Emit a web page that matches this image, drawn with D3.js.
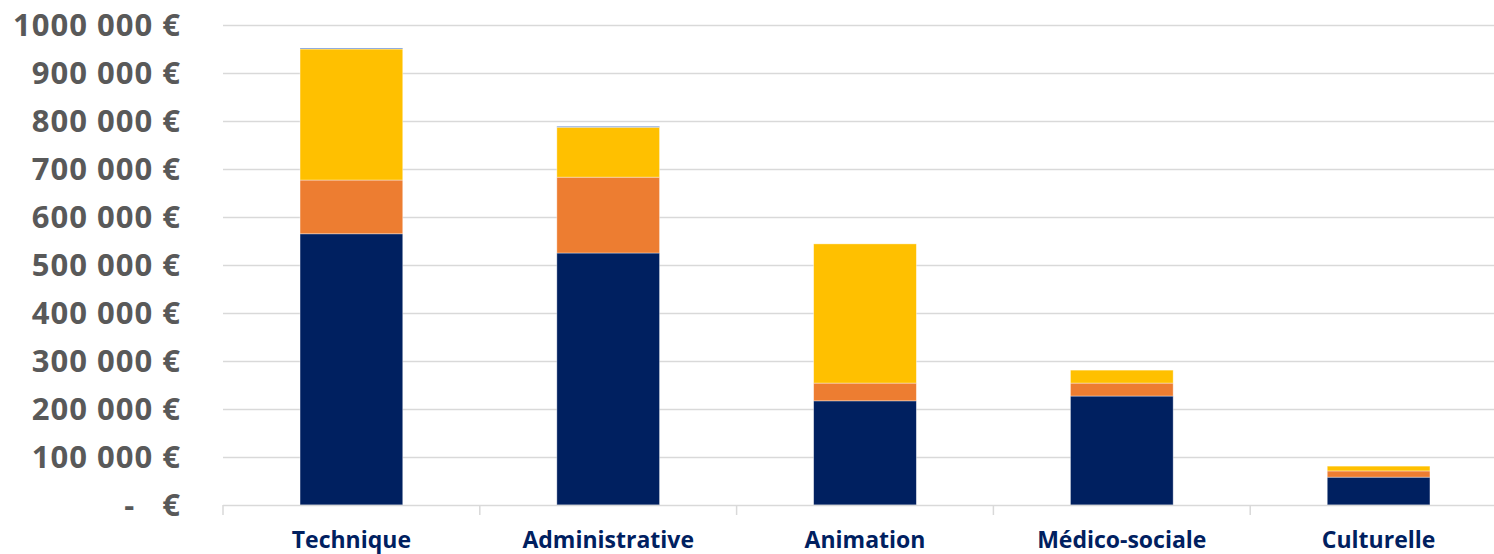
<!DOCTYPE html>
<html>
<head>
<meta charset="utf-8">
<script src="https://cdn.jsdelivr.net/npm/d3@7"></script>
<style>
  body { margin: 0; background: #fff; }
  svg { display: block; }
</style>
</head>
<body>
<div id="chart"></div>
<script>
// categories and stacked series (values in euros)
const categories = ["Technique", "Administrative", "Animation", "Médico-sociale", "Culturelle"];
const seriesNames = ["s1", "s2", "s3", "s4"];
const s1 = [565000, 525000, 217000, 227000, 58000];
const s2 = [112000, 158000, 37000, 27000, 13000];
const s3 = [273000, 104000, 290000, 27000, 10000];
const s4 = [2000, 2000, 0, 0, 0];
const colors = ["#002060", "#ED7D31", "#FFC000", "#4472C4"];
const yTicks = [0, 100000, 200000, 300000, 400000, 500000, 600000, 700000, 800000, 900000, 1000000];

const width = 1494, height = 554;
const margin = { top: 25, right: -13, bottom: 49, left: 223 };

const svg = d3.select("#chart").append("svg")
    .attr("width", width)
    .attr("height", height);

const x = d3.scaleBand()
    .domain(categories)
    .range([margin.left, width - margin.right])
    .paddingInner(0.6)
    .paddingOuter(0.3);

const y = d3.scaleLinear()
    .domain([0, 1000000])
    .range([height - margin.bottom, margin.top]);

// table for the stack
const rows = categories.map((c, i) => ({ cat: c, s1: s1[i], s2: s2[i], s3: s3[i], s4: s4[i] }));
const stacked = d3.stack().keys(seriesNames)(rows);

// gridlines
svg.append("g")
    .selectAll("line")
    .data(yTicks.filter(d => d > 0))
    .enter()
    .append("line")
    .attr("x1", margin.left)
    .attr("x2", width)
    .attr("y1", d => Math.round(y(d)) + 0.5)
    .attr("y2", d => Math.round(y(d)) + 0.5)
    .attr("stroke", "#d9d9d9")
    .attr("stroke-width", 1.5);

// y labels
const fmt = d => d === 0 ? "-   €" : d3.format(",")(d).replace(/,/g, " ").replace(/^1 000 000$/, "1000 000") + " €";
svg.append("g")
    .selectAll("text")
    .data(yTicks)
    .enter()
    .append("text")
    .attr("x", 181)
    .attr("y", d => y(d))
    .attr("dy", "0.36em")
    .attr("text-anchor", "end")
    .attr("font-family", "'Open Sans', sans-serif")
    .attr("font-weight", "bold")
    .attr("font-size", "31px")
    .attr("letter-spacing", "1px")
    .attr("fill", "#595959")
    .style("white-space", "pre")
    .text(fmt);

// bars
svg.append("g")
    .selectAll("g")
    .data(stacked)
    .enter()
    .append("g")
    .attr("fill", (d, i) => colors[i])
    .selectAll("rect")
    .data(d => d.map(v => Object.assign(v, { cat: v.data.cat })))
    .enter()
    .append("rect")
    .attr("x", d => x(d.cat))
    .attr("width", x.bandwidth())
    .attr("y", d => y(d[1]))
    .attr("height", d => Math.max(0, y(d[0]) - y(d[1])))
    .attr("stroke", "rgba(255,255,255,0.5)")
    .attr("stroke-width", 0.75);

// x axis line and ticks at band edges
const edges = d3.range(categories.length + 1).map(i => margin.left + i * (width - margin.right - margin.left) / categories.length);
const axisG = svg.append("g");
axisG.append("line")
    .attr("x1", margin.left)
    .attr("x2", width)
    .attr("y1", y(0) + 0.5)
    .attr("y2", y(0) + 0.5)
    .attr("stroke", "#d9d9d9")
    .attr("stroke-width", 1.5);
axisG.selectAll("line.tick")
    .data(edges)
    .enter()
    .append("line")
    .attr("class", "tick")
    .attr("x1", d => d)
    .attr("x2", d => d)
    .attr("y1", y(0))
    .attr("y2", y(0) + 10)
    .attr("stroke", "#d9d9d9")
    .attr("stroke-width", 1.5);

// x labels
svg.append("g")
    .selectAll("text")
    .data(categories)
    .enter()
    .append("text")
    .attr("x", d => x(d) + x.bandwidth() / 2)
    .attr("y", 548)
    .attr("text-anchor", "middle")
    .attr("font-family", "'Open Sans', sans-serif")
    .attr("font-weight", "bold")
    .attr("font-size", "23px")
    .attr("fill", "#002060")
    .text(d => d);
</script>
</body>
</html>
